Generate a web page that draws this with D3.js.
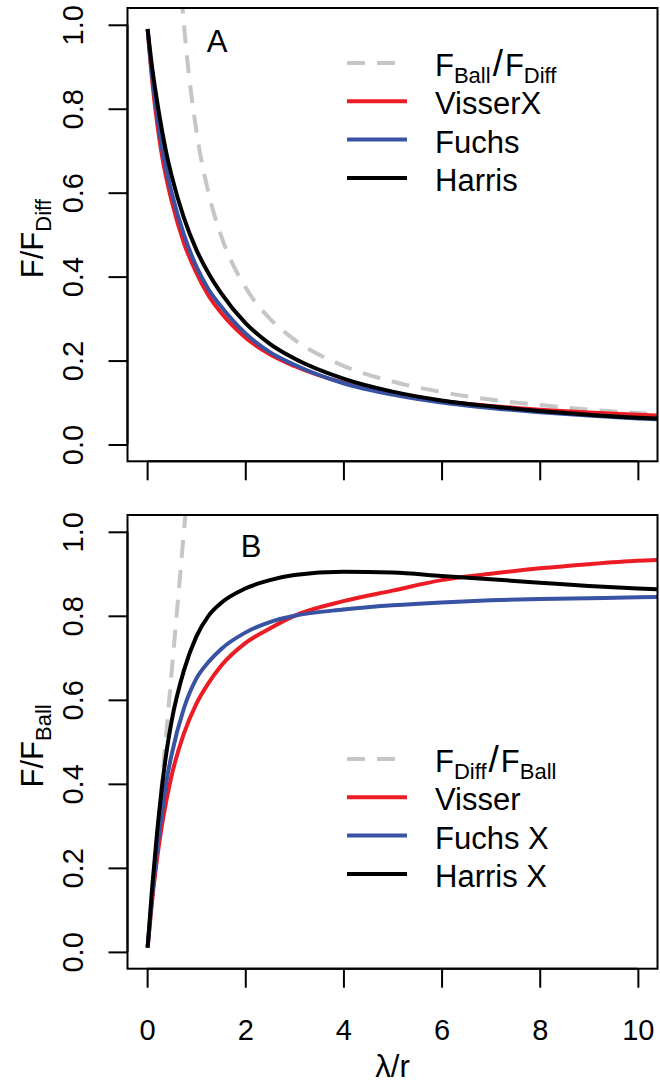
<!DOCTYPE html>
<html>
<head>
<meta charset="utf-8">
<script src="https://cdn.jsdelivr.net/npm/d3@7"></script>
<style>
  body { margin: 0; background: #fff; }
  text { font-family: "Liberation Sans", Arial, sans-serif; fill: #000; }
</style>
</head>
<body>
<script>
// x values (lambda / r) shared by the fitted curves
const xs = [0.01, 0.1, 0.2, 0.3, 0.4, 0.5, 0.75, 1, 1.25, 1.5, 2, 2.5, 3, 4, 5, 6, 7, 8, 9, 10, 10.4];

// Panel A : F / F_Diff
const visserXA = [0.99, 0.87, 0.77, 0.69, 0.63, 0.58, 0.48, 0.41, 0.355, 0.315, 0.255, 0.215, 0.187, 0.147, 0.122, 0.104, 0.092, 0.083, 0.076, 0.071, 0.069];
const fuchsA   = [0.99, 0.88, 0.79, 0.71, 0.65, 0.60, 0.50, 0.425, 0.37, 0.33, 0.265, 0.22, 0.19, 0.146, 0.119, 0.100, 0.087, 0.077, 0.069, 0.062, 0.060];
const harrisA  = [0.99, 0.90, 0.82, 0.75, 0.69, 0.64, 0.54, 0.465, 0.408, 0.362, 0.29, 0.24, 0.205, 0.157, 0.126, 0.105, 0.091, 0.080, 0.071, 0.064, 0.062];
const ballDiffX = [0.70, 0.8, 1, 1.25, 1.5, 2, 2.5, 3, 4, 5, 6, 7, 8, 9, 10, 10.4];
const ballDiffY = [1.07, 0.9375, 0.75, 0.6, 0.5, 0.375, 0.3, 0.25, 0.1875, 0.15, 0.125, 0.107, 0.094, 0.083, 0.075, 0.072];

// Panel B : F / F_Ball
const visserB  = [0.01, 0.12, 0.22, 0.30, 0.365, 0.42, 0.52, 0.59, 0.64, 0.68, 0.735, 0.77, 0.80, 0.835, 0.86, 0.885, 0.90, 0.913, 0.923, 0.931, 0.933];
const fuchsXB  = [0.01, 0.13, 0.24, 0.33, 0.41, 0.47, 0.58, 0.65, 0.69, 0.72, 0.76, 0.785, 0.80, 0.815, 0.825, 0.832, 0.837, 0.840, 0.842, 0.844, 0.845];
const harrisXB = [0.01, 0.15, 0.28, 0.39, 0.48, 0.55, 0.67, 0.75, 0.80, 0.83, 0.865, 0.885, 0.897, 0.905, 0.903, 0.895, 0.887, 0.879, 0.871, 0.865, 0.863];
const diffBallX = [0.01, 0.2, 0.4, 0.6, 0.8];
const diffBallY = [0.013, 0.267, 0.533, 0.8, 1.067];

const yTicks = [0, 0.2, 0.4, 0.6, 0.8, 1.0];
const xTicks = [0, 2, 4, 6, 8, 10];

const RED = '#ec1c24', BLUE = '#3852a4', GREY = '#c6c6c6';
const FS = '31px', SUB = '22px', TICK = '29px';

const svg = d3.select('body').append('svg').attr('width', 660).attr('height', 1085);

const x = d3.scaleLinear().domain([-0.4, 10.4]).range([127.5, 657.5]);

function panel(top, bottom, id, curves, legend, letter, yTitle, showXLabels) {
  const y = d3.scaleLinear().domain([-0.04, 1.04]).range([bottom, top]);

  svg.append('clipPath').attr('id', id)
    .append('rect').attr('x', 127.5).attr('y', top).attr('width', 530).attr('height', bottom - top);

  const g = svg.append('g').attr('clip-path', 'url(#' + id + ')');
  const line = d3.line().x(d => x(d[0])).y(d => y(d[1])).curve(d3.curveMonotoneX);

  curves.forEach(c => {
    g.append('path')
      .datum(d3.zip(c.xs, c.ys))
      .attr('d', line)
      .attr('fill', 'none')
      .attr('stroke', c.color)
      .attr('stroke-width', 4)
      .attr('stroke-dasharray', c.dash ? '18,12' : null);
  });

  // box
  svg.append('rect')
    .attr('x', 127.5).attr('y', top).attr('width', 530).attr('height', bottom - top)
    .attr('fill', 'none').attr('stroke', '#000').attr('stroke-width', 2);

  // y axis
  const yAxis = svg.append('g').attr('transform', 'translate(127.5,0)')
    .call(d3.axisLeft(y).tickValues(yTicks).tickSize(19).tickFormat(d3.format('.1f')));
  yAxis.select('.domain').attr('stroke-width', 2).attr('d', 'M0,' + y(0) + 'V' + y(1));
  yAxis.selectAll('.tick line').attr('stroke-width', 2);
  yAxis.selectAll('.tick text')
    .attr('x', null).attr('dy', null).attr('y', 0)
    .attr('transform', 'translate(-45,0) rotate(-90)')
    .attr('text-anchor', 'middle')
    .style('font-size', TICK)
    .style('font-family', '"Liberation Sans", Arial, sans-serif');

  // x axis
  const xAxis = svg.append('g').attr('transform', 'translate(0,' + bottom + ')')
    .call(d3.axisBottom(x).tickValues(xTicks).tickSize(19).tickFormat(showXLabels ? d3.format('d') : ''));
  xAxis.select('.domain').attr('stroke-width', 2).attr('d', 'M' + x(0) + ',0H' + x(10));
  xAxis.selectAll('.tick line').attr('stroke-width', 2);
  xAxis.selectAll('.tick text')
    .attr('y', 71).attr('dy', null)
    .style('font-size', TICK)
    .style('font-family', '"Liberation Sans", Arial, sans-serif');

  // y title
  const yt = svg.append('text')
    .attr('transform', 'translate(43,' + ((top + bottom) / 2 + 4) + ') rotate(-90)')
    .attr('text-anchor', 'middle')
    .style('font-size', FS);
  yt.append('tspan').text('F/F');
  yt.append('tspan').attr('dy', 8).style('font-size', SUB).text(yTitle);

  // panel letter
  svg.append('text')
    .attr('x', letter.x).attr('y', top + letter.dy)
    .attr('text-anchor', 'middle')
    .style('font-size', FS)
    .text(letter.t);

  // legend
  legend.items.forEach((it, i) => {
    const ly = legend.y + i * 38.3;
    svg.append('line')
      .attr('x1', 347).attr('x2', 407).attr('y1', ly).attr('y2', ly)
      .attr('stroke', it.color).attr('stroke-width', 4)
      .attr('stroke-dasharray', it.dash ? '18,12' : null);
    const t = svg.append('text')
      .attr('x', 435).attr('y', ly + 13)
      .style('font-size', FS);
    if (it.sub) {
      t.append('tspan').text('F');
      t.append('tspan').attr('dy', 7).style('font-size', SUB).text(it.sub[0]);
      t.append('tspan').attr('dy', -7).attr('dx', 2).style('font-size', '37px').text('/');
      t.append('tspan').attr('dx', 2).text('F');
      t.append('tspan').attr('dy', 7).style('font-size', SUB).text(it.sub[1]);
    } else {
      t.text(it.label);
    }
  });
}

panel(8, 461.3, 'clipA', [
  { xs: ballDiffX, ys: ballDiffY, color: GREY, dash: true },
  { xs: xs, ys: visserXA, color: RED },
  { xs: xs, ys: fuchsA, color: BLUE },
  { xs: xs, ys: harrisA, color: '#000' }
], {
  y: 63,
  items: [
    { sub: ['Ball', 'Diff'], color: GREY, dash: true },
    { label: 'VisserX', color: RED },
    { label: 'Fuchs', color: BLUE },
    { label: 'Harris', color: '#000' }
  ]
}, { t: 'A', x: 217, dy: 44 }, 'Diff', false);

panel(515, 968.7, 'clipB', [
  { xs: diffBallX, ys: diffBallY, color: GREY, dash: true },
  { xs: xs, ys: visserB, color: RED },
  { xs: xs, ys: fuchsXB, color: BLUE },
  { xs: xs, ys: harrisXB, color: '#000' }
], {
  y: 759,
  items: [
    { sub: ['Diff', 'Ball'], color: GREY, dash: true },
    { label: 'Visser', color: RED },
    { label: 'Fuchs X', color: BLUE },
    { label: 'Harris X', color: '#000' }
  ]
}, { t: 'B', x: 251, dy: 42 }, 'Ball', true);

// x axis title
svg.append('text')
  .attr('x', x(5)).attr('y', 1077)
  .attr('text-anchor', 'middle')
  .style('font-size', FS)
  .text('λ/r');
</script>
</body>
</html>
